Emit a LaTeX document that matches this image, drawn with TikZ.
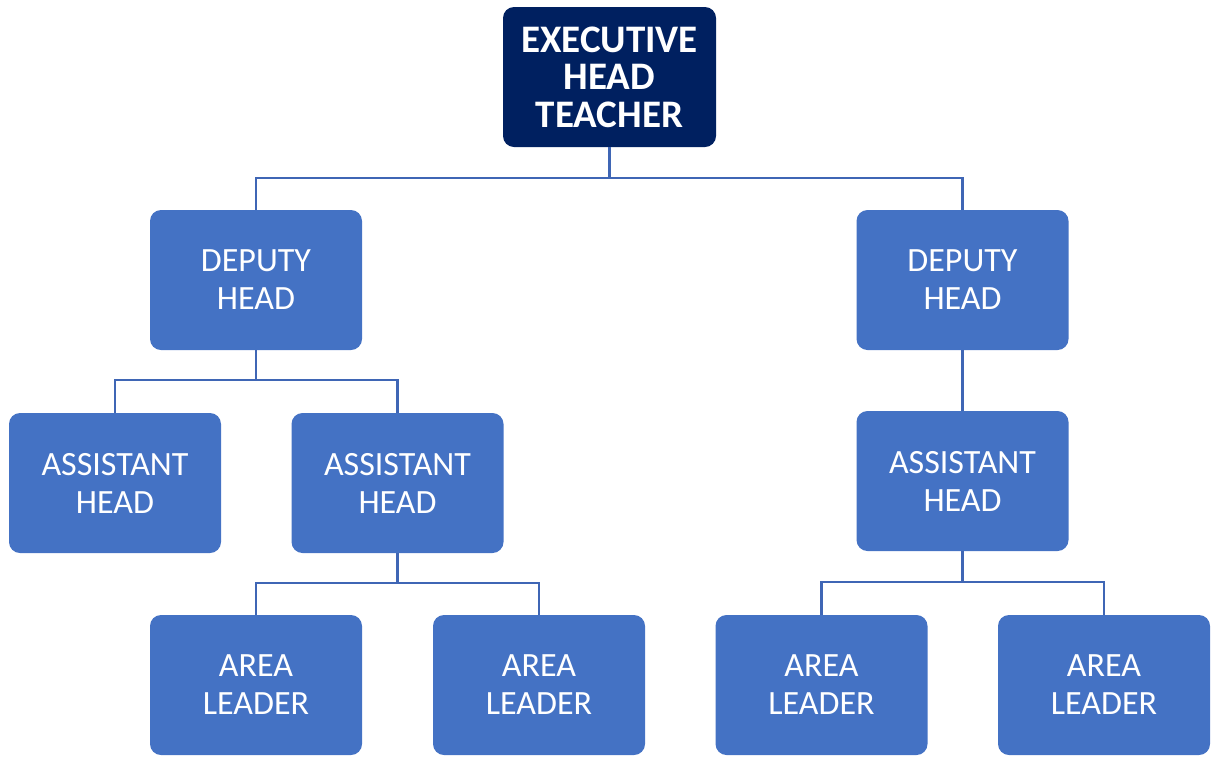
\documentclass[tikz,border=0pt]{standalone}
\usepackage{fontspec}
\setmainfont{Carlito}
\definecolor{boxblue}{RGB}{68,114,196}
\definecolor{linkblue}{RGB}{63,102,181}
\definecolor{navy}{RGB}{0,32,96}
\begin{document}
\begin{tikzpicture}[x=1pt,y=-1pt,
  box/.style={rectangle, rounded corners=11pt, fill=boxblue, text=white,
    minimum width=212pt, minimum height=140pt, inner sep=0pt, outer sep=0pt,
    align=center, font=\fontsize{34}{38}\selectfont},
  topbox/.style={box, fill=navy, minimum width=213pt,
    font=\fontsize{39}{37.5}\selectfont\bfseries},
  conn/.style={draw=linkblue, line width=2.6pt}]
\useasboundingbox (0,0) rectangle (1214,756);
\node[topbox] (exec) at (609.5,77) {EXECUTIVE\\HEAD\\TEACHER};
\node[box] (dl) at (256,280) {DEPUTY\\HEAD};
\node[box] (dr) at (962.5,280) {DEPUTY\\HEAD};
\node[box] (al) at (115,483) {ASSISTANT\\HEAD};
\node[box] (am) at (397.5,483) {ASSISTANT\\HEAD};
\node[box] (ar) at (962.5,481) {ASSISTANT\\HEAD};
\node[box] (l1) at (256,685) {AREA\\LEADER};
\node[box] (l2) at (539,685) {AREA\\LEADER};
\node[box] (l3) at (821.5,685) {AREA\\LEADER};
\node[box] (l4) at (1104,685) {AREA\\LEADER};
\coordinate (b1) at (0,178);
\coordinate (b2) at (0,380);
\coordinate (b3) at (0,583);
\coordinate (b4) at (0,582);
\draw[conn] (exec.south) -- (exec.south |- b1) -| (dl.north);
\draw[conn] (exec.south |- b1) -| (dr.north);
\draw[conn] (dl.south) -- (dl.south |- b2) -| (al.north);
\draw[conn] (dl.south |- b2) -| (am.north);
\draw[conn] (dr.south) -- (ar.north);
\draw[conn] (am.south) -- (am.south |- b3) -| (l1.north);
\draw[conn] (am.south |- b3) -| (l2.north);
\draw[conn] (ar.south) -- (ar.south |- b4) -| (l3.north);
\draw[conn] (ar.south |- b4) -| (l4.north);
\end{tikzpicture}
\end{document}
